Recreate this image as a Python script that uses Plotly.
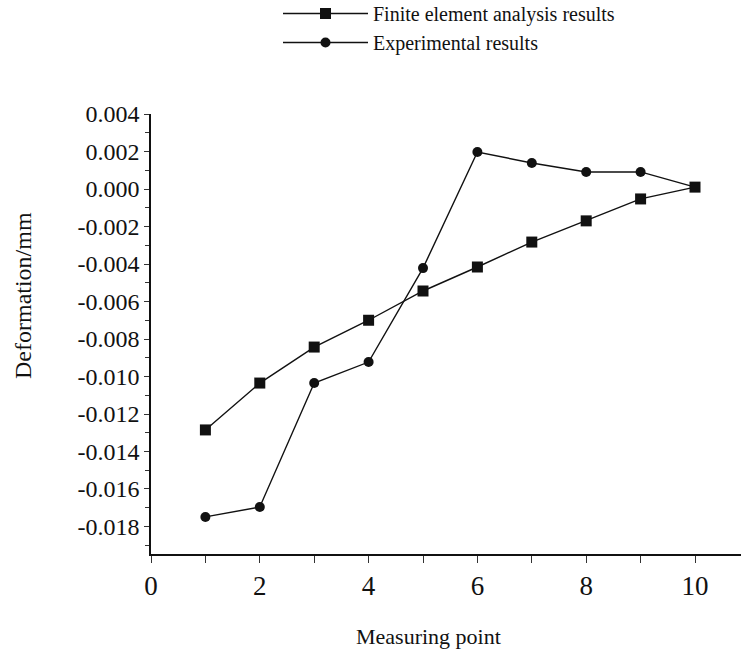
import plotly.graph_objects as go

# ---- data ----
measuring_points = [1, 2, 3, 4, 5, 6, 7, 8, 9, 10]
fea_results = [-0.01285, -0.01035, -0.00843, -0.00700, -0.00544,
               -0.00416, -0.00283, -0.00170, -0.00053, 0.00010]
experimental_results = [-0.01749, -0.01696, -0.01035, -0.00923, -0.00422,
                        0.00197, 0.00139, 0.00091, 0.00091, 0.00010]

x_tick_vals = [0, 2, 4, 6, 8, 10]
x_tick_text = ["0", "2", "4", "6", "8", "10"]
y_tick_vals = [0.004, 0.002, 0.000, -0.002, -0.004, -0.006, -0.008, -0.010,
               -0.012, -0.014, -0.016, -0.018]
y_tick_text = ["0.004", "0.002", "0.000", "-0.002", "-0.004", "-0.006", "-0.008",
               "-0.010", "-0.012", "-0.014", "-0.016", "-0.018"]

series_names = ["Finite element analysis results", "Experimental results"]
x_title = "Measuring point"
y_title = "Deformation/mm"

FONT = "Liberation Serif, Times New Roman, serif"
INK = "#111111"

fig = go.Figure()
fig.add_trace(go.Scatter(
    x=measuring_points, y=fea_results, name=series_names[0],
    mode="lines+markers",
    line=dict(color=INK, width=1.4),
    marker=dict(symbol="square", size=11, color=INK),
))
fig.add_trace(go.Scatter(
    x=measuring_points, y=experimental_results, name=series_names[1],
    mode="lines+markers",
    line=dict(color=INK, width=1.4),
    marker=dict(symbol="circle", size=10, color=INK),
))

fig.update_layout(
    width=741, height=652,
    margin=dict(l=151, r=0, t=114, b=98, autoexpand=False),
    paper_bgcolor="white", plot_bgcolor="white",
    font=dict(family=FONT, color=INK),
    showlegend=True,
    legend=dict(
        x=(278 - 151) / 590, y=1 + (114 + 6) / 440,
        xanchor="left", yanchor="top",
        font=dict(family=FONT, size=20, color=INK),
        bgcolor="rgba(0,0,0,0)", borderwidth=0,
        itemwidth=85,
    ),
    xaxis=dict(
        range=[0, 590 / 54.4],
        tickmode="array", tickvals=x_tick_vals, ticktext=x_tick_text,
        ticks="outside", ticklen=7, tickwidth=1, tickcolor="#333",
        minor=dict(dtick=1, tick0=0, ticks="outside", ticklen=7, tickcolor="#333"),
        showline=True, linecolor=INK, linewidth=1.5,
        showgrid=False, zeroline=False,
        tickfont=dict(family=FONT, size=27, color=INK),
    ),
    yaxis=dict(
        range=[-0.019467, 0.004],
        tickmode="array", tickvals=y_tick_vals, ticktext=y_tick_text,
        ticks="outside", ticklen=5, tickwidth=1, tickcolor="#333",
        minor=dict(dtick=0.001, tick0=0, ticks="outside", ticklen=4, tickcolor="#333"),
        showline=True, linecolor=INK, linewidth=1.5,
        showgrid=False, zeroline=False,
        tickfont=dict(family=FONT, size=24, color=INK),
    ),
    annotations=[
        dict(text=x_title, xref="paper", yref="paper",
             x=(428 - 151) / 590, y=(554 - 636) / 440,
             xanchor="center", yanchor="middle", showarrow=False,
             font=dict(family=FONT, size=22, color=INK)),
        dict(text=y_title, xref="paper", yref="paper",
             x=(23 - 151) / 590, y=(554 - 296) / 440,
             xanchor="center", yanchor="middle", showarrow=False, textangle=-90,
             font=dict(family=FONT, size=24, color=INK)),
    ],
)

fig.write_html("out.html")
